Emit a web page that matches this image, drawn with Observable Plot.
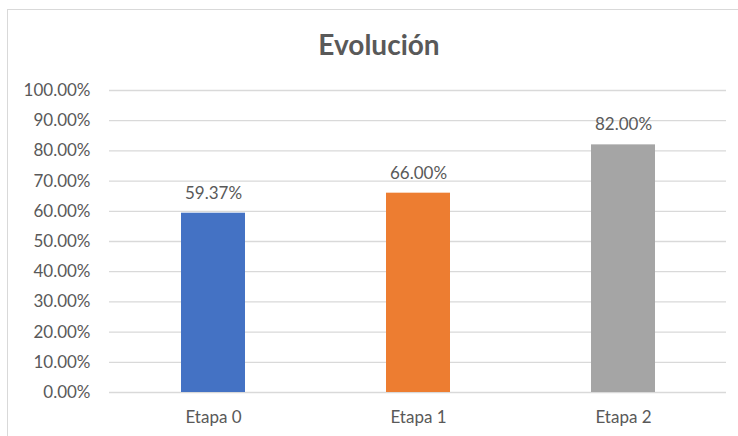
<!DOCTYPE html>
<html>
<head>
<meta charset="utf-8">
<script src="https://cdn.jsdelivr.net/npm/d3@7"></script>
<script src="https://cdn.jsdelivr.net/npm/@observablehq/plot@0.6"></script>
<style>
  html, body { margin: 0; padding: 0; background: #fff; }
  #wrap { position: relative; width: 738px; height: 436px; overflow: hidden; font-family: "Lato", sans-serif; }
  #frame { position: absolute; left: 7px; top: 9px; width: 800px; height: 500px; border-left: 1px solid #d9d9d9; border-top: 1px solid #d9d9d9; }
  #title { position: absolute; left: 0; top: 27px; width: 758px; text-align: center; font-size: 28px; font-weight: bold; color: #595959; }
  #chart { position: absolute; left: 0; top: 75px; }
</style>
</head>
<body>
<div id="wrap">
  <div id="frame"></div>
  <div id="title">Evolución</div>
  <div id="chart"></div>
</div>
<script>
const categories = ["Etapa 0", "Etapa 1", "Etapa 2"];
const values = [0.5937, 0.66, 0.82];
const colors = ["#4472C4", "#ED7D31", "#A5A5A5"];
const yTicks = [0, 0.1, 0.2, 0.3, 0.4, 0.5, 0.6, 0.7, 0.8, 0.9, 1.0];

const data = categories.map((c, i) => ({category: c, value: values[i], color: colors[i]}));
const fmt = d3.format(".2%");

const plot = Plot.plot({
  width: 738,
  height: 361,
  marginTop: 15,
  marginBottom: 44,
  marginLeft: 109,
  marginRight: 12,
  style: {fontFamily: "Lato, sans-serif", fontSize: "17px", color: "#595959", background: "transparent"},
  x: {domain: categories, paddingInner: 0.69, paddingOuter: 0.345, label: null},
  y: {domain: [0, 1], label: null},
  marks: [
    Plot.gridY(yTicks, {stroke: "#d9d9d9", strokeOpacity: 1, strokeWidth: 1.3}),
    Plot.barY(data, {x: "category", y: "value", fill: "color"}),
    Plot.text(data, {x: "category", y: "value", text: d => fmt(d.value), dy: -20, fill: "#595959", fontSize: 17}),
    Plot.axisY({ticks: yTicks, tickFormat: fmt, tickSize: 0, tickPadding: 19, fontSize: 17, fill: "#595959"}),
    Plot.axisX({tickSize: 0, tickPadding: 18, fontSize: 17, fill: "#595959"})
  ]
});
document.getElementById("chart").appendChild(plot);
</script>
</body>
</html>
